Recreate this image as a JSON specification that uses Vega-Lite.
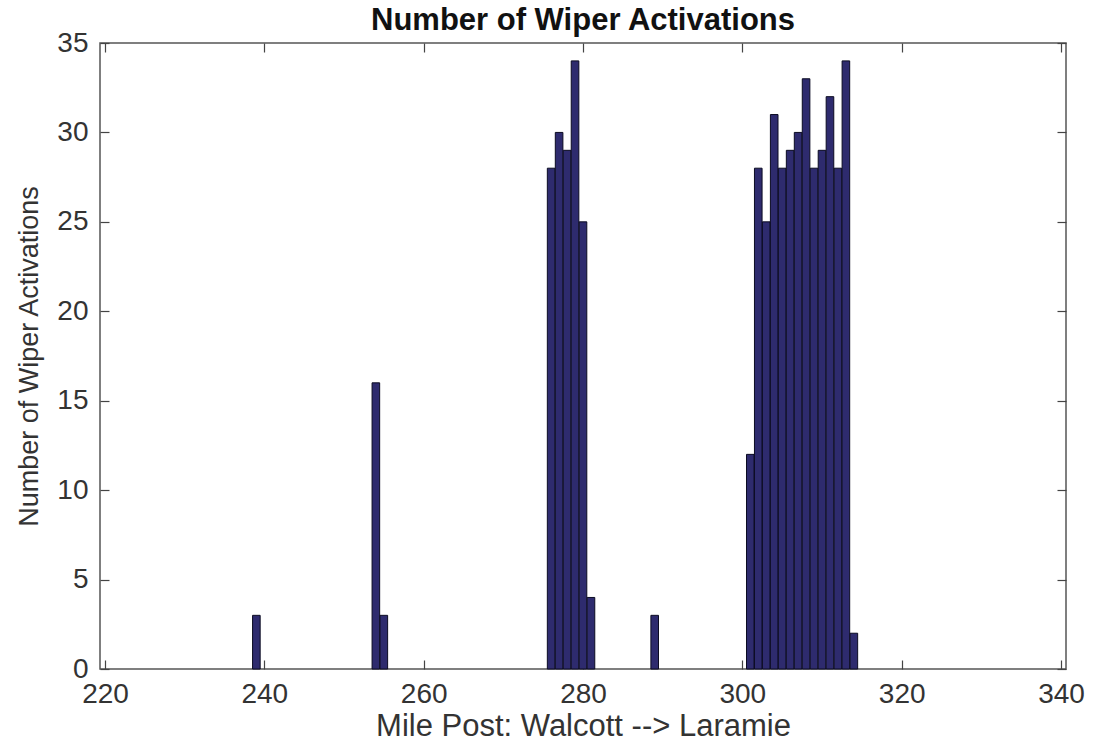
{
  "$schema": "https://vega.github.io/schema/vega-lite/v6.json",
  "width": 966,
  "height": 626,
  "autosize": "none",
  "padding": {"left": 100, "top": 43, "right": 31, "bottom": 79},
  "background": "white",
  "config": {
    "view": {"stroke": "#555555", "strokeWidth": 1.5},
    "font": "Liberation Sans",
    "axis": {"grid": false, "domain": false, "tickColor": "#444444", "tickSize": -9, "tickWidth": 1.2, "labelColor": "#333333", "labelFont": "Liberation Sans", "titleFont": "Liberation Sans", "titleFontWeight": "normal", "titleColor": "#333333"}
  },
  "title": {"text": "Number of Wiper Activations", "font": "Liberation Sans", "fontSize": 31, "fontWeight": "bold", "color": "#111111", "offset": -8},
  "data": {"values": [
    {"mile": 239, "count": 3},
    {"mile": 254, "count": 16},
    {"mile": 255, "count": 3},
    {"mile": 276, "count": 28},
    {"mile": 277, "count": 30},
    {"mile": 278, "count": 29},
    {"mile": 279, "count": 34},
    {"mile": 280, "count": 25},
    {"mile": 281, "count": 4},
    {"mile": 289, "count": 3},
    {"mile": 301, "count": 12},
    {"mile": 302, "count": 28},
    {"mile": 303, "count": 25},
    {"mile": 304, "count": 31},
    {"mile": 305, "count": 28},
    {"mile": 306, "count": 29},
    {"mile": 307, "count": 30},
    {"mile": 308, "count": 33},
    {"mile": 309, "count": 28},
    {"mile": 310, "count": 29},
    {"mile": 311, "count": 32},
    {"mile": 312, "count": 28},
    {"mile": 313, "count": 34},
    {"mile": 314, "count": 2}
  ]},
  "layer": [
    {
      "mark": {"type": "bar", "width": 7.6, "fill": "#2e2b6e", "stroke": "#0b0b22", "strokeWidth": 1},
      "encoding": {
        "x": {"field": "mile", "type": "quantitative", "scale": {"domain": [220, 340], "nice": false, "zero": false},
              "axis": {"orient": "bottom", "values": [220, 240, 260, 280, 300, 320, 340], "labelFontSize": 28, "labelPadding": 20, "title": "Mile Post: Walcott --> Laramie", "titleFontSize": 31, "titlePadding": 3}},
        "y": {"field": "count", "type": "quantitative", "scale": {"domain": [0, 35], "nice": false},
              "axis": {"orient": "left", "values": [0, 5, 10, 15, 20, 25, 30, 35], "labelFontSize": 28, "labelPadding": 21, "title": "Number of Wiper Activations", "titleFontSize": 27, "titlePadding": 13}}
      }
    },
    {
      "mark": {"type": "rule", "opacity": 0},
      "encoding": {
        "x": {"field": "mile", "type": "quantitative", "scale": {"domain": [220, 340], "nice": false, "zero": false},
              "axis": {"orient": "top", "values": [220, 240, 260, 280, 300, 320, 340], "labels": false, "title": null}},
        "y": {"field": "count", "type": "quantitative", "scale": {"domain": [0, 35], "nice": false},
              "axis": {"orient": "right", "values": [0, 5, 10, 15, 20, 25, 30, 35], "labels": false, "title": null}}
      }
    }
  ],
  "resolve": {"axis": {"x": "independent", "y": "independent"}}
}
